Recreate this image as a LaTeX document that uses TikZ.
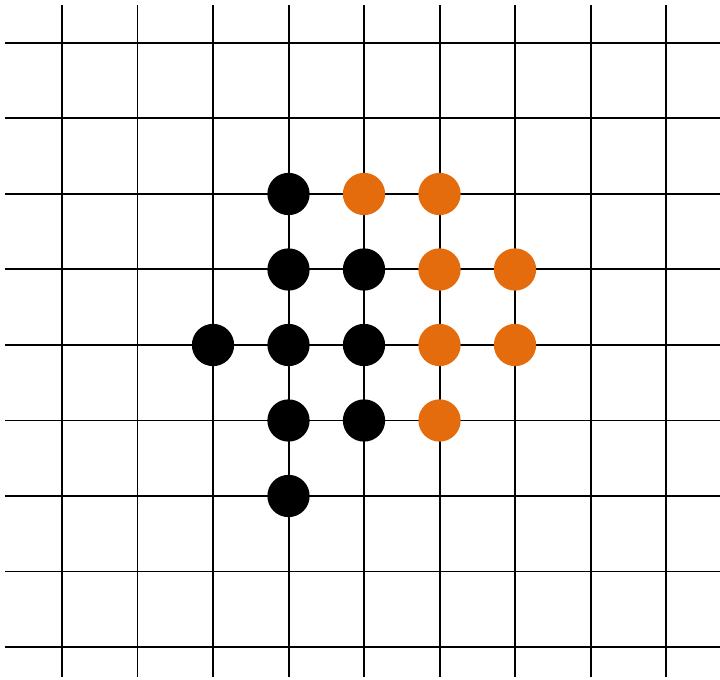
\documentclass[tikz,border=0pt]{standalone}
\definecolor{stoneorange}{RGB}{228,108,12}
\tikzset{
  gridline/.style={line width=0.75pt, black},
  blackstone/.style={circle, fill=black, inner sep=0pt, minimum size=0.56cm},
  orangestone/.style={circle, fill=stoneorange, inner sep=0pt, minimum size=0.56cm}
}
\begin{document}
\begin{tikzpicture}[x=1cm,y=1cm]
\useasboundingbox (-0.8212,0.5695) rectangle (8.715,-8.424);
\foreach \i in {0,...,8} {
  \draw[gridline] (-0.755,-\i) -- (8.715,-\i);
  \draw[gridline] (\i,0.503) -- (\i,-8.397);
}
\node[blackstone] (b1) at (3,-2) {};
\node[blackstone] (b2) at (3,-3) {};
\node[blackstone] (b3) at (4,-3) {};
\node[blackstone] (b4) at (2,-4) {};
\node[blackstone] (b5) at (3,-4) {};
\node[blackstone] (b6) at (4,-4) {};
\node[blackstone] (b7) at (3,-5) {};
\node[blackstone] (b8) at (4,-5) {};
\node[blackstone] (b9) at (3,-6) {};
\node[orangestone] (o1) at (4,-2) {};
\node[orangestone] (o2) at (5,-2) {};
\node[orangestone] (o3) at (5,-3) {};
\node[orangestone] (o4) at (6,-3) {};
\node[orangestone] (o5) at (5,-4) {};
\node[orangestone] (o6) at (6,-4) {};
\node[orangestone] (o7) at (5,-5) {};
\end{tikzpicture}
\end{document}
